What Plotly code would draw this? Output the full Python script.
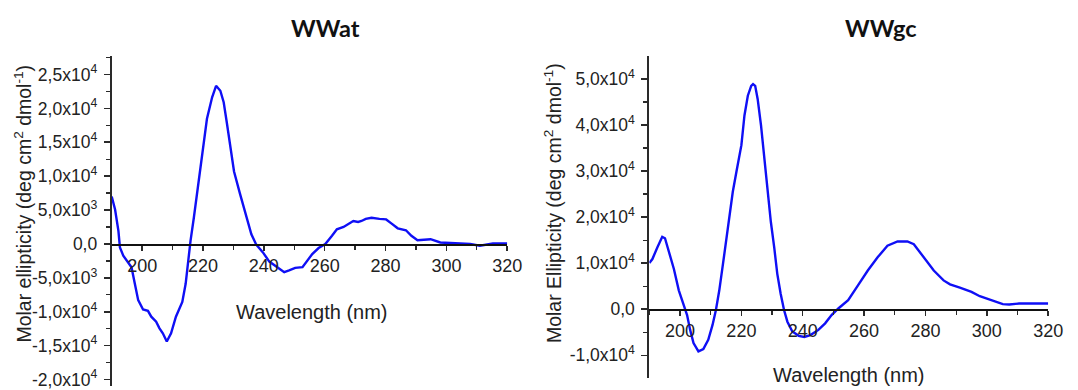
import plotly.graph_objects as go

# ---------------- data ----------------
wl_wwat = [190, 191.1, 192.2, 192.7, 193.8, 195.4, 196.5, 197.6, 198.7, 200.3,
           201.9, 203, 204.6, 205.7, 206.8, 208.1, 209.5, 211.1, 213.2, 214.3,
           215.1, 215.9, 217, 218.1, 219.7, 220.8, 221.3, 223, 224.3, 225.7,
           226.8, 227.8, 228.9, 230.2, 232.1, 234.3, 235.9, 237.5, 239.7, 241.8,
           244.6, 246.7, 248.3, 250.3, 252.7, 255.9, 258, 260.2, 262.4, 264,
           266.2, 269.4, 271, 272.1, 273.5, 275.4, 278, 280.2, 282, 284,
           286.7, 288.5, 290.5, 292.5, 294.8, 298, 303.4, 307.8, 311, 315.3,
           318.6, 320]
ellip_wwat = [7000, 5080, 1930, -510, -1720, -2700, -3430, -5870, -8290, -9660,
              -9860, -10730, -11460, -12440, -13170, -14380, -13170, -10730, -8540, -5870,
              -2450, 470, 3900, 7770, 13110, 16530, 18470, 21640, 23330, 22600,
              20910, 17990, 14570, 10690, 7500, 3950, 1430, -100, -1240, -2600,
              -3430, -4160, -3910, -3530, -3430, -1490, -600, 0, 1200, 2160,
              2510, 3390, 3250, 3390, 3700, 3870, 3700, 3620, 3000, 2310,
              2020, 1200, 550, 600, 700, 220, 120, 0, -260, 70,
              70, 70]

wl_wwgc = [190, 191, 192.6, 194.2, 195.1, 196.4, 198, 199.6, 201.2, 202.3,
           203.3, 204.4, 206, 207.6, 209.2, 210.6, 211.7, 212.8, 214, 215.1,
           216.2, 217.2, 218.4, 220, 221, 222.1, 223.2, 223.8, 224.5, 225.3,
           226.4, 227.5, 228.5, 229.6, 230.7, 231.7, 232.8, 233.9, 235, 236.6,
           238.7, 240.5, 242.5, 245.1, 247.3, 249.4, 251.6, 254.8, 258, 261.2,
           264.4, 267.6, 270.9, 274.1, 276.2, 279.4, 282.7, 285.9, 288, 291.2,
           295, 297.7, 300.9, 305.2, 307.3, 310.5, 315.9, 320]
ellip_wwgc = [10050, 10910, 13420, 15720, 15420, 12350, 8760, 4120, 900, -1250,
              -4470, -7350, -9130, -8630, -6620, -3390, -170, 4120, 9840, 15570,
              21310, 25500, 29900, 35620, 42060, 46350, 48500, 48870, 48500, 45650,
              39910, 32760, 25000, 19000, 13420, 7690, 3390, -170, -2690, -4830,
              -5760, -6000, -5600, -4470, -3050, -1250, 170, 1980, 5200, 8420,
              11280, 13790, 14710, 14710, 14130, 11280, 8420, 6270, 5410, 4680,
              3760, 2830, 2110, 1110, 1030, 1250, 1250, 1250]

x_tick_vals = [200, 220, 240, 260, 280, 300, 320]
x_tick_text = ["200", "220", "240", "260", "280", "300", "320"]

y_tick_vals_wwat = [-20000, -15000, -10000, -5000, 0, 5000, 10000, 15000, 20000, 25000]
y_tick_text_wwat = ["-2,0x10<sup>4</sup>", "-1,5x10<sup>4</sup>", "-1,0x10<sup>4</sup>",
                    "-5,0x10<sup>3</sup>", "0,0", "5,0x10<sup>3</sup>", "1,0x10<sup>4</sup>",
                    "1,5x10<sup>4</sup>", "2,0x10<sup>4</sup>", "2,5x10<sup>4</sup>"]

y_tick_vals_wwgc = [-10000, 0, 10000, 20000, 30000, 40000, 50000]
y_tick_text_wwgc = ["-1,0x10<sup>4</sup>", "0,0", "1,0x10<sup>4</sup>", "2,0x10<sup>4</sup>",
                    "3,0x10<sup>4</sup>", "4,0x10<sup>4</sup>", "5,0x10<sup>4</sup>"]

titles = ["WWat", "WWgc"]
y_titles = ["Molar ellipticity (deg cm<sup>2</sup> dmol<sup>-1</sup>)",
            "Molar Ellipticity (deg cm<sup>2</sup> dmol<sup>-1</sup>)"]
x_title = "Wavelength (nm)"

# ---------------- layout geometry ----------------
W, H = 1078, 390
def px(x):
    return x / W
def py(y):
    return 1 - y / H

x_range = [190, 320]
y_range_wwat = [-20951, 27711]
y_range_wwgc = [-14930, 54946]

dom_x1 = [px(113.3), px(514.4)]
dom_y1 = [py(390), py(56.7)]
dom_x2 = [px(658.5), px(1063.0)]
dom_y2 = [py(382), py(56.7)]

def zero_pos(dom, rng):
    return dom[0] + (0 - rng[0]) / (rng[1] - rng[0]) * (dom[1] - dom[0])

TICK_FONT = dict(family="Arial, Liberation Sans, sans-serif", size=17.5, color="#222222")
LINE_COLOR = "#2a2a2a"
BLUE = "#0f0ff5"

fig = go.Figure()
fig.add_trace(go.Scatter(x=wl_wwat, y=ellip_wwat, mode="lines",
                         line=dict(color=BLUE, width=2.4), xaxis="x", yaxis="y",
                         showlegend=False, hoverinfo="x+y"))
fig.add_trace(go.Scatter(x=wl_wwgc, y=ellip_wwgc, mode="lines",
                         line=dict(color=BLUE, width=2.4), xaxis="x2", yaxis="y2",
                         showlegend=False, hoverinfo="x+y"))

def xaxis_cfg(dom, pos):
    return dict(domain=dom, range=x_range, anchor="free", position=pos,
                showline=True, linecolor="#111111", linewidth=1.6,
                showgrid=False, zeroline=False,
                tickmode="array", tickvals=x_tick_vals, ticktext=x_tick_text,
                ticks="outside", ticklen=5, tickwidth=1.5, tickcolor=LINE_COLOR,
                minor=dict(dtick=10, tick0=190, ticks="outside", ticklen=4,
                           tickwidth=1.3, tickcolor=LINE_COLOR),
                tickfont=dict(TICK_FONT, size=18), ticklabeloverflow="allow",
                fixedrange=True)

def yaxis_cfg(dom, rng, vals, text, anchor, minor_dtick):
    return dict(domain=dom, range=rng, anchor=anchor,
                showline=True, linecolor=LINE_COLOR, linewidth=2,
                showgrid=False, zeroline=False,
                tickmode="array", tickvals=vals, ticktext=text,
                ticks="outside", ticklen=6, tickwidth=1.6, tickcolor=LINE_COLOR,
                minor=dict(dtick=minor_dtick, tick0=0, ticks="outside", ticklen=4,
                           tickwidth=1.3, tickcolor=LINE_COLOR),
                tickfont=TICK_FONT, ticklabelstandoff=3,
                ticklabeloverflow="allow", fixedrange=True)

fig.update_layout(
    width=W, height=H,
    margin=dict(l=0, r=0, t=0, b=0),
    paper_bgcolor="white", plot_bgcolor="rgba(0,0,0,0)",
    xaxis=xaxis_cfg(dom_x1, zero_pos(dom_y1, y_range_wwat)),
    yaxis=yaxis_cfg(dom_y1, y_range_wwat, y_tick_vals_wwat, y_tick_text_wwat, "x", 2500),
    xaxis2=xaxis_cfg(dom_x2, zero_pos(dom_y2, y_range_wwgc)),
    yaxis2=yaxis_cfg(dom_y2, y_range_wwgc, y_tick_vals_wwgc, y_tick_text_wwgc, "x2", 5000),
)

TITLE_FONT = dict(family="Lato, Open Sans, sans-serif", size=23.5, color="#111111")
AX_FONT = dict(family="Arial, Liberation Sans, sans-serif", size=20, color="#222222")
YT_FONT = dict(family="Arial, Liberation Sans, sans-serif", size=19.5, color="#222222")

annos = [
    dict(text="<b>" + titles[0] + "</b>", x=px(330), y=py(28), font=TITLE_FONT),
    dict(text="<b>" + titles[1] + "</b>", x=px(893), y=py(28), font=TITLE_FONT),
    dict(text=x_title, x=px(316), y=py(315), font=AX_FONT),
    dict(text=x_title, x=px(861), y=py(379), font=AX_FONT),
    dict(text=y_titles[0], x=px(23), y=py(206), font=YT_FONT, textangle=-90),
    dict(text=y_titles[1], x=px(561), y=py(205), font=YT_FONT, textangle=-90),
]
for a in annos:
    fig.add_annotation(xref="paper", yref="paper", showarrow=False,
                       xanchor="center", yanchor="middle", **a)

fig.write_html("out.html",
               config={"displayModeBar": False, "staticPlot": True},
               post_script="document.body.style.margin='0';document.body.style.overflow='hidden';")
